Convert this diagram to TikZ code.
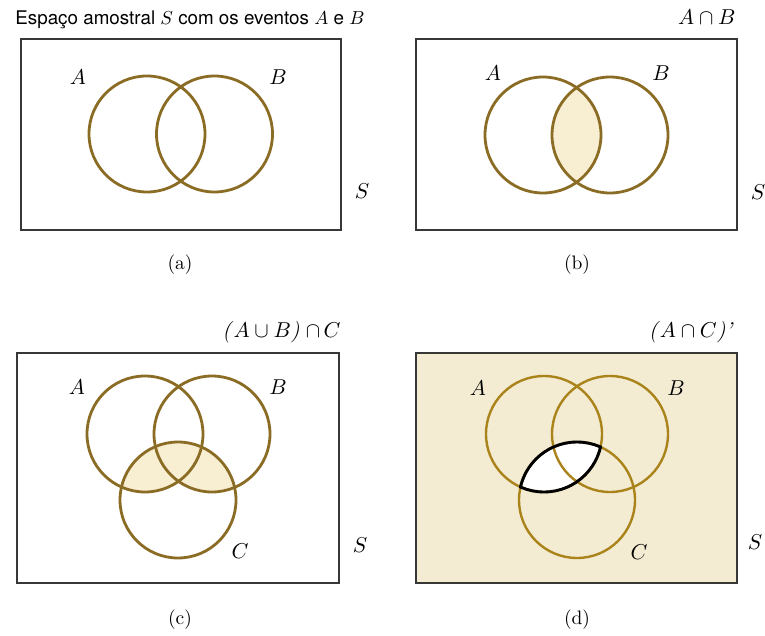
\documentclass[tikz,border=0pt]{standalone}
\usepackage{fontspec}
\newfontfamily\titlefont{TeX Gyre Heros}
\definecolor{ringbrown}{RGB}{138,108,36}
\definecolor{ringgold}{RGB}{170,132,26}
\definecolor{lensfill}{RGB}{248,238,210}
\definecolor{bgbeige}{RGB}{243,235,210}
\definecolor{framegray}{RGB}{55,55,55}
\tikzset{
  frame/.style={draw=framegray, line width=1.3pt},
  ring/.style={draw=ringbrown, line width=2.8pt},
  ringd/.style={draw=ringgold, line width=2.4pt},
  lbl/.style={font=\fontsize{10}{12}\selectfont, inner sep=0pt, scale=2.15},
  sublabel/.style={font=\fontsize{10}{12}\selectfont, inner sep=0pt, scale=1.95},
}
\begin{document}
\begin{tikzpicture}[x=1pt,y=-1pt]
\useasboundingbox (0,0) rectangle (765,636);
\fill[white] (0,0) rectangle (765,636);
\def\r{58}
% ---------- (a) ----------
\node[anchor=base west, inner sep=0pt, font=\titlefont\fontsize{10}{12}\selectfont, scale=1.88] (ta) at (15,25) {Espaço amostral $S$ com os eventos $A$ e $B$};
\draw[frame] (21,39) rectangle (341,230);
\coordinate (aA) at (147,134);
\coordinate (aB) at (214.5,134);
\draw[ring] (aA) circle (\r);
\draw[ring] (aB) circle (\r);
\node[lbl] (la) at (78,77) {$A$};
\node[lbl] (lb) at (278,77) {$B$};
\node[lbl] (ls) at (362,191) {$S$};
\node[sublabel] (capa) at (180,265) {(a)};
% ---------- (b) ----------
\node[lbl, anchor=base east] (tb) at (736,25) {$A\cap B$};
\draw[frame] (416,39) rectangle (737,230);
\coordinate (bA) at (543,135);
\coordinate (bB) at (610,135);
\begin{scope}
  \clip (bA) circle (\r);
  \fill[lensfill] (bB) circle (\r);
\end{scope}
\draw[ring] (bA) circle (\r);
\draw[ring] (bB) circle (\r);
\node[lbl] (lb1) at (493,73) {$A$};
\node[lbl] (lb2) at (661,73) {$B$};
\node[lbl] (lb3) at (758,192) {$S$};
\node[sublabel] (capb) at (577,265) {(b)};
% ---------- (c) ----------
\node[lbl, anchor=base east] (tc) at (341,337) {\textit{(}$A\cup B$\textit{)}$\;\cap\, C$};
\draw[frame] (17,353) rectangle (339,583);
\coordinate (cA) at (145,434);
\coordinate (cB) at (212,434);
\coordinate (cC) at (178,500);
\begin{scope}
  \clip (cC) circle (\r);
  \fill[lensfill] (cA) circle (\r);
  \fill[lensfill] (cB) circle (\r);
\end{scope}
\draw[ring] (cA) circle (\r);
\draw[ring] (cB) circle (\r);
\draw[ring] (cC) circle (\r);
\node[lbl] (lc1) at (77,387) {$A$};
\node[lbl] (lc2) at (278,387) {$B$};
\node[lbl] (lc3) at (240,551) {$C$};
\node[lbl] (lc4) at (360,545) {$S$};
\node[sublabel] (capc) at (180,620) {(c)};
% ---------- (d) ----------
\node[lbl, anchor=base east] (td) at (734,337) {\textit{(}$A\cap C$\textit{)'}};
\fill[bgbeige] (416,353) rectangle (737,583);
\draw[frame] (416,353) rectangle (737,583);
\coordinate (dA) at (544,434);
\coordinate (dB) at (610,434);
\coordinate (dC) at (577,500);
\begin{scope}
  \clip (dA) circle (\r);
  \fill[white] (dC) circle (\r);
\end{scope}
\draw[ringd] (dA) circle (\r);
\draw[ringd] (dB) circle (\r);
\draw[ringd] (dC) circle (\r);
\begin{scope}
  \clip (dA) circle (\r+1.2);
  \draw[black, line width=2.9pt] (dC) circle (\r);
\end{scope}
\begin{scope}
  \clip (dC) circle (\r+1.2);
  \draw[black, line width=2.9pt] (dA) circle (\r);
\end{scope}
\node[lbl] (ld1) at (478,388) {$A$};
\node[lbl] (ld2) at (676,388) {$B$};
\node[lbl] (ld3) at (639,552) {$C$};
\node[lbl] (ld4) at (755,542) {$S$};
\node[sublabel] (capd) at (577,620) {(d)};
\end{tikzpicture}
\end{document}
